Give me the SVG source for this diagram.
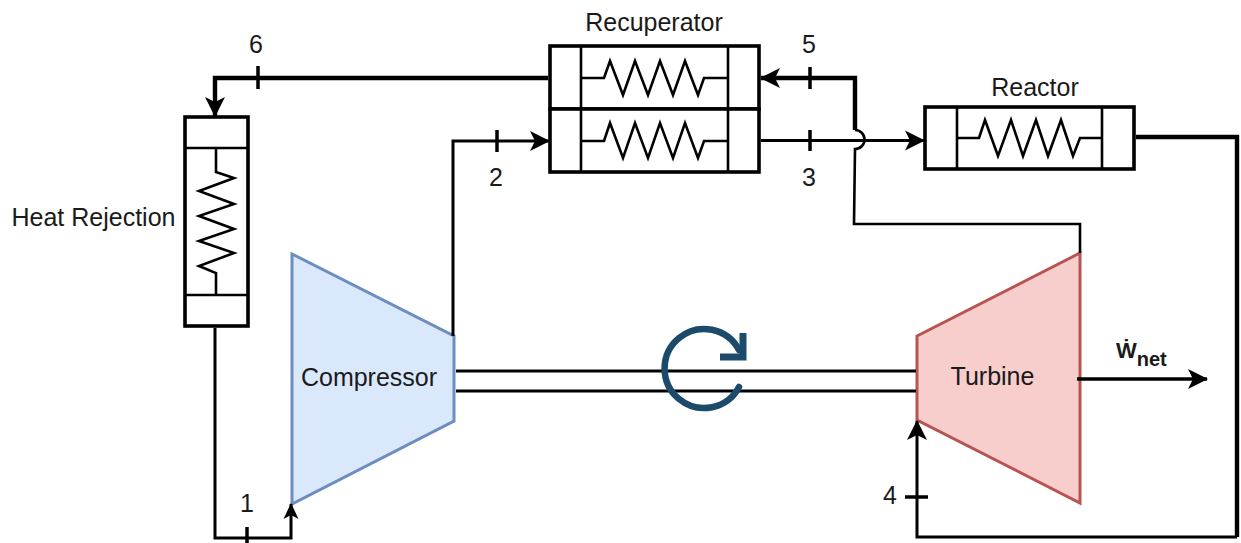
<svg xmlns="http://www.w3.org/2000/svg" width="1241" height="543" viewBox="0 0 1241 543">
<style>
text{font-family:"Liberation Sans",Arial,sans-serif;font-size:25px;fill:#1a1a1a;text-anchor:middle}
.box{fill:#fff;stroke:#000;stroke-width:3.600}
.in{fill:none;stroke:#000;stroke-width:2.600;stroke-linejoin:miter}
.c{fill:none;stroke:#000;stroke-width:3;stroke-linejoin:miter}
.t{stroke-width:4.400}
.n{stroke-width:2.600}
.tick{fill:none;stroke:#000;stroke-width:3.500}
</style>
<defs>
<marker id="ah" markerUnits="userSpaceOnUse" markerWidth="20" markerHeight="22" viewBox="0 0 20 22" refX="19" refY="11" orient="auto"><path d="M0,1 L20,11 L0,21 L5,11 z" fill="#000"/></marker>
<marker id="ahs" markerUnits="userSpaceOnUse" markerWidth="16" markerHeight="16" viewBox="0 0 16 16" refX="15" refY="8" orient="auto"><path d="M0,0.500 L16,8 L0,15.500 L4,8 z" fill="#000"/></marker>
</defs>
<g id="recuperator-top">
<rect class="box" x="550" y="46" width="209" height="63"/>
<path class="in" d="M581,46 V109 M728,46 V109 M581,78 H604 L610,61 L623,95 L635,61 L648,95 L660,61 L673,95 L685,61 L698,95 L704,78 H728"/>
</g>
<g id="recuperator-bottom">
<rect class="box" x="550" y="109" width="209" height="63"/>
<path class="in" d="M581,109 V172 M728,109 V172 M581,141 H604 L610,123 L623,158 L635,123 L648,158 L660,123 L673,158 L685,123 L698,158 L704,141 H728"/>
</g>
<g id="reactor">
<rect class="box" x="925" y="107" width="209" height="62"/>
<path class="in" d="M957,107 V169 M1102,107 V169 M957,138 H979 L985,120 L998,156 L1011,120 L1023,156 L1036,120 L1048,156 L1061,120 L1073,156 L1080,138 H1102"/>
</g>
<g id="heat-rejection">
<rect class="box" x="185" y="117" width="63" height="209"/>
<path class="in" d="M185,148 H248 M185,295 H248 M216,148 V172 L234,178 L199,191 L234,204 L199,216 L234,229 L199,241 L234,253 L199,266 L216,273 V295"/>
</g>
<g id="compressor">
<path d="M292,254 L454,336 V421 L292,504 Z" fill="#dae8fc" stroke="#6c8ebf" stroke-width="3"/>
<text x="369" y="386">Compressor</text>
</g>
<g id="turbine">
<path d="M917,336 L1080,253 V503 L917,420 Z" fill="#f8cecc" stroke="#b85450" stroke-width="3"/>
<text x="992.500" y="385">Turbine</text>
</g>
<g id="connectors">
<path class="c t" d="M548,78 H215 V116" marker-end="url(#ah)"/>
<path class="c" d="M215,328 V538 H291 V504" marker-end="url(#ahs)"/>
<path class="c" d="M453,336 V141 H549" marker-end="url(#ah)"/>
<path class="c" d="M761,140.500 H924" marker-end="url(#ah)"/>
<path class="c t" d="M855,130 V78 H761" marker-end="url(#ah)"/>
<path class="c n" d="M1080,253 V224 H854 L855,149 A9.500,9.500 0 0 0 855,130"/>
<path class="c t" d="M1136,137 H1237 V537"/>
<path class="c" d="M1237,537 H917 V421" marker-end="url(#ah)"/>
<path class="c" d="M456,371 H916 M456,391 H916"/>
<path class="c" d="M1077,379 H1207" style="stroke-width:3.500" marker-end="url(#ah)"/>
<path class="tick" d="M258,66 V89 M247,527 V543 M497,130 V152 M810,67 V89 M810,130 V151 M905,497 H928"/>
</g>
<g id="rotation">
<path d="M739,387 A39.500,39.500 0 1 1 739,350" fill="none" stroke="#1b4a6b" stroke-width="6.500" stroke-linecap="round"/>
<path d="M743,333 V357 H720" fill="none" stroke="#1b4a6b" stroke-width="7"/>
</g>
<g id="labels">
<text x="654" y="31">Recuperator</text>
<text x="1035" y="96">Reactor</text>
<text x="93.500" y="226">Heat Rejection</text>
<text x="256" y="53">6</text>
<text x="809" y="53">5</text>
<text x="496" y="186">2</text>
<text x="809" y="186">3</text>
<text x="247" y="512">1</text>
<text x="890" y="504">4</text>
<text x="1116" y="358" style="font-weight:bold;font-size:22px;text-anchor:start">Ẇ<tspan dy="8" style="font-size:20px">net</tspan></text>
</g>
</svg>
